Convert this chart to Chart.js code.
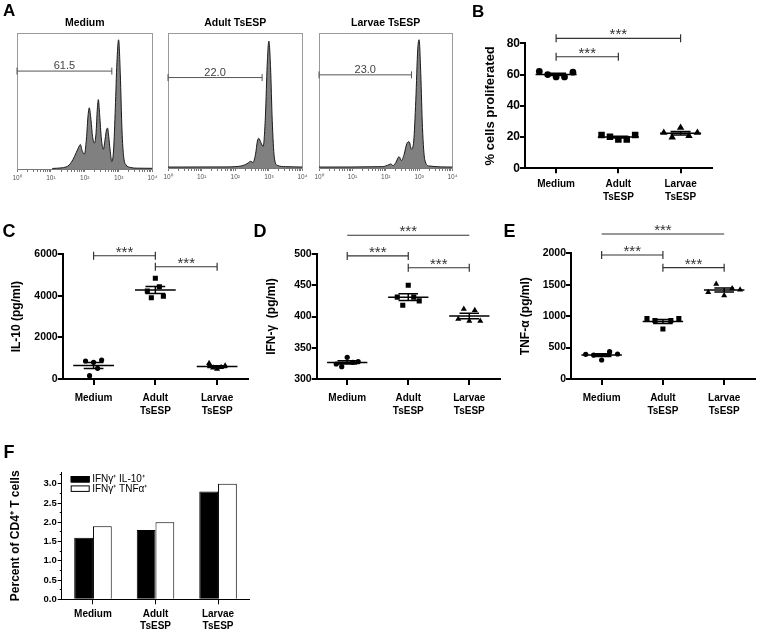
<!DOCTYPE html>
<html><head><meta charset="utf-8">
<script src="https://cdn.jsdelivr.net/npm/chart.js@4.4.0/dist/chart.umd.min.js"></script>
<style>
html,body{margin:0;padding:0;background:#fff;}
body{width:760px;height:633px;position:relative;overflow:hidden;font-family:"Liberation Sans",Arial,sans-serif;}
.pl{position:absolute;font-weight:bold;line-height:1;color:#000;z-index:5;}
.cv{position:absolute;}
.cv canvas{display:block;}
</style></head><body>
<script>
// ---------------- DATA ----------------
const groups = ['Medium', 'Adult TsESP', 'Larvae TsESP'];
const groupTickLabels = [['Medium'], ['Adult', 'TsESP'], ['Larvae', 'TsESP']];

// Panel A: CFSE histograms (x = fluorescence intensity, y = % of max)
const histTitles = ['Medium', 'Adult TsESP', 'Larvae TsESP'];
const histGateLabels = ['61.5', '22.0', '23.0'];
const histGateEnd = [630, 630, 590];
const histGateHeight = [72, 67, 69];
const histMediumX = [11, 20, 28, 35, 45, 56, 66, 74, 85, 98, 112, 126, 136, 150, 170, 192, 215, 235, 252, 275, 310, 355, 400, 440, 472, 510, 560, 630, 710, 800, 890, 1000, 1120, 1260, 1410, 1660, 2200, 3500, 10000];
const histMediumY = [0.4, 0.8, 1.5, 3, 7, 12, 16, 18, 13, 11, 22, 40, 45, 38, 24, 19, 26, 44, 51, 40, 22, 14.5, 22, 29, 30, 24, 14, 5.5, 14, 45, 78, 95, 70, 28, 9, 3, 1.2, 0.6, 0.5];
const histAdultX = [1, 50, 100, 150, 200, 250, 290, 335, 400, 457, 500, 575, 676, 795, 890, 1000, 1120, 1260, 1450, 1780, 3160, 10000];
const histAdultY = [0.7, 0.8, 1, 1.5, 2.5, 4, 5, 4, 10, 20, 22, 19, 16, 40, 76, 94, 75, 35, 8, 2, 1, 0.7];
const histLarvaeX = [1, 80, 126, 141, 166, 200, 251, 295, 355, 427, 500, 590, 690, 795, 910, 1000, 1120, 1260, 1480, 2000, 10000];
const histLarvaeY = [0.7, 1, 2.5, 3, 1.8, 4, 8.4, 5.5, 10, 18, 19.5, 14, 20, 50, 88, 95, 70, 30, 6, 1.5, 0.7];
const histDecades = [1, 10, 100, 1000, 10000];

// Panel B: % cells proliferated
const prolifMedium = [62, 60, 58.5, 58.5, 61.5];
const prolifAdult = [21.3, 20.2, 18.5, 18.5, 21.3];
const prolifLarvae = [22.8, 19.8, 26, 20.7, 22.8];
const yTicksB = [0, 20, 40, 60, 80];
const sigB = [[0, 2, 83.2], [0, 1, 71.4]];

// Panel C: IL-10 (pg/ml)
const il10Medium = [866, 160, 803, 514, 914];
const il10Adult = [4234, 3912, 4845, 4441, 3979];
const il10Larvae = [755, 545, 481, 561, 640];
const yTicksC = [0, 2000, 4000, 6000];
const sigC = [[0, 1, 5930], [1, 2, 5400]];

// Panel D: IFN-γ (pg/ml)
const ifngMedium = [324, 319.7, 334.7, 326.7, 327.7];
const ifngAdult = [431, 418, 450, 431, 425];
const ifngLarvae = [396, 412, 393, 410, 393];
const yTicksD = [300, 350, 400, 450, 500];
const sigD = [[0, 2, 530], [0, 1, 497], [1, 2, 478]];

// Panel E: TNF-α (pg/ml)
const tnfMedium = [393, 380, 302, 434, 398];
const tnfAdult = [960, 930, 795, 930, 960];
const tnfLarvae = [1380, 1510, 1330, 1440, 1420];
const yTicksE = [0, 500, 1000, 1500, 2000];
const sigE = [[0, 2, 2307], [0, 1, 1973], [1, 2, 1771]];

const sigLabel = '***';

// Panel F: percent of CD4+ T cells
const seriesF = ['IFNγ⁺ IL-10⁺', 'IFNγ⁺ TNFα⁺'];
const dblIl10 = [1.6, 1.8, 2.8];
const dblTnf = [1.9, 2.0, 3.0];
const yTicksF = [0, 0.5, 1.0, 1.5, 2.0, 2.5, 3.0];
const yMinorF = [0.25, 0.75, 1.25, 1.75, 2.25, 2.75, 3.25];

// ---------------- STYLE / HELPERS ----------------
const FONT = '"Liberation Sans", Arial, Helvetica, sans-serif';
Chart.defaults.font.family = FONT;
Chart.defaults.color = '#000';
Chart.defaults.animation = false;
Chart.defaults.plugins.legend.display = false;
Chart.defaults.plugins.tooltip.enabled = false;

function mount(r) {
  const d = document.createElement('div');
  d.className = 'cv';
  d.style.left = r.x + 'px'; d.style.top = r.y + 'px';
  d.style.width = r.w + 'px'; d.style.height = r.h + 'px';
  const c = document.createElement('canvas');
  d.appendChild(c);
  document.body.appendChild(d);
  return c;
}
function textLayer(items) {
  return { id: 'textLayer', afterDatasetsDraw(chart) {
    const ctx = chart.ctx, sx = chart.scales.x, sy = chart.scales.y;
    ctx.save();
    items.forEach(it => {
      const px = (sx.getPixelForValue(it.x1) + sx.getPixelForValue(it.x2)) / 2;
      const py = sy.getPixelForValue(it.y) + it.dy;
      ctx.font = it.font; ctx.fillStyle = it.color;
      ctx.textAlign = 'center'; ctx.textBaseline = 'alphabetic';
      ctx.fillText(it.text, px, py);
    });
    ctx.restore();
  }};
}
const SUP = {0: '⁰', 1: '¹', 2: '²', 3: '³', 4: '⁴'};
const logTickValues = [];
for (let e = 0; e < 4; e++) for (let m = 1; m < 10; m++) logTickValues.push(m * Math.pow(10, e));
logTickValues.push(10000);

function histChart(rect, area, title, xs, ys, gateEnd, gateY, gateLabel) {
  const cv = mount(rect);
  const titleLH = 10.5 * 1.2;
  const titleCenter = 23.3;
  const padTop = titleCenter - rect.y - titleLH / 2;
  const titlePadBottom = area.top - rect.y - padTop - titleLH;
  const xH = 14;
  const p = {left: area.left - rect.x, right: rect.x + rect.w - area.right, top: padTop, bottom: rect.y + rect.h - area.bottom - xH};
  const boxBorder = {color: '#9a9a9a', width: 1};
  const hidden = {drawOnChartArea: false, drawTicks: false};
  new Chart(cv, {
    type: 'line',
    data: {datasets: [
      {data: xs.map((x, i) => ({x, y: ys[i]})), borderColor: '#1a1a1a', borderWidth: 1, backgroundColor: '#808080', fill: 'origin', pointRadius: 0, cubicInterpolationMode: 'monotone'},
      {data: [{x: 1, y: gateY}, {x: gateEnd, y: gateY}], borderColor: '#555', borderWidth: 1, pointStyle: 'line', rotation: 90, pointRadius: 3.5, pointBorderColor: '#555', pointBorderWidth: 1, fill: false, clip: false}
    ]},
    options: {
      responsive: true, maintainAspectRatio: false, events: [],
      layout: {padding: p},
      plugins: {title: {display: true, text: title, fullSize: false, color: '#000', font: {size: 10.5, weight: 'bold', lineHeight: 1.2}, padding: {top: 0, bottom: titlePadBottom}}},
      scales: {
        x: {type: 'logarithmic', position: 'bottom', min: 1, max: 10000,
            afterBuildTicks: s => { s.ticks = logTickValues.map(v => ({value: v, major: histDecades.includes(v)})); },
            afterFit: s => { s.height = xH; },
            ticks: {autoSkip: false, maxRotation: 0, padding: 2.5, color: '#555', font: {size: 6.5, lineHeight: 1.1},
                    callback: v => { const k = histDecades.indexOf(v); return k >= 0 ? '10' + SUP[k] : ''; }},
            grid: {drawOnChartArea: false, drawTicks: true, tickLength: 3, color: '#777', lineWidth: 1},
            border: {color: '#777', width: 1}},
        y: {min: 0, max: 100, afterFit: s => { s.width = 0; }, ticks: {display: false}, grid: hidden, border: boxBorder},
        x2: {type: 'linear', position: 'top', afterFit: s => { s.height = 0; }, ticks: {display: false}, grid: hidden, border: boxBorder},
        y2: {type: 'linear', position: 'right', afterFit: s => { s.width = 0; }, ticks: {display: false}, grid: hidden, border: boxBorder}
      }
    },
    plugins: [textLayer([{x1: 1, x2: gateEnd, y: gateY, dy: -2, text: gateLabel, font: '11px ' + FONT, color: '#444'}])]
  });
}

function mean(a) { return a.reduce((s, v) => s + v, 0) / a.length; }
function sem(a) { const m = mean(a); return Math.sqrt(a.reduce((s, v) => s + (v - m) * (v - m), 0) / (a.length - 1)) / Math.sqrt(a.length); }

function dotPlot(c) {
  const cv = mount(c.rect);
  const p = {left: c.area.left - c.rect.x - c.yW, right: c.rect.x + c.rect.w - c.area.right, top: c.area.top - c.rect.y, bottom: c.rect.y + c.rect.h - c.area.bottom - c.xH};
  const shapes = ['circle', 'rect', 'triangle'];
  const ds = [];
  c.values.forEach((vals, g) => {
    const n = vals.length;
    ds.push({data: vals.map((v, k) => ({x: g + (k / (n - 1) - 0.5) * 2 * c.jitter, y: v})),
             pointStyle: shapes[g], pointRadius: c.markerR[g], pointBackgroundColor: '#000', backgroundColor: '#000', pointBorderWidth: 0, showLine: false});
    const m = mean(vals), s = sem(vals);
    ds.push({data: [{x: g - 0.33, y: m}, {x: g + 0.33, y: m}, {x: g, y: null},
                    {x: g - 0.16, y: m + s}, {x: g + 0.16, y: m + s}, {x: g, y: null},
                    {x: g - 0.16, y: m - s}, {x: g + 0.16, y: m - s}, {x: g, y: null},
                    {x: g, y: m - s}, {x: g, y: m + s}],
             showLine: true, borderColor: '#000', borderWidth: 1.5, pointRadius: 0, spanGaps: false, fill: false});
  });
  c.sig.forEach(([a, b, y]) => ds.push({data: [{x: a, y}, {x: b, y}], showLine: true, borderColor: '#333', borderWidth: 1.2,
    pointStyle: 'line', rotation: 90, pointRadius: 4, pointBorderColor: '#333', pointBorderWidth: 1.2, clip: false, fill: false}));
  const stars = c.sig.map(([a, b, y]) => ({x1: a, x2: b, y, dy: 1, text: sigLabel, font: '15px ' + FONT, color: '#333'}));
  new Chart(cv, {
    type: 'scatter',
    data: {datasets: ds},
    options: {
      responsive: true, maintainAspectRatio: false, events: [],
      layout: {padding: p},
      scales: {
        x: {type: 'linear', min: -0.5, max: 2.5,
            afterBuildTicks: s => { s.ticks = groups.map((g, i) => ({value: i})); },
            afterFit: s => { s.height = c.xH; },
            ticks: {autoSkip: false, maxRotation: 0, padding: c.xPad, font: {size: 10, weight: 'bold', lineHeight: c.xLH}, callback: v => groupTickLabels[v]},
            grid: {drawOnChartArea: false, drawTicks: true, tickLength: c.xTL, color: '#000', lineWidth: 2},
            border: {color: '#000', width: 2}},
        y: {type: 'linear', min: c.yTicks[0], max: c.yTicks[c.yTicks.length - 1],
            afterBuildTicks: s => { s.ticks = c.yTicks.map(v => ({value: v})); },
            afterFit: s => { s.width = c.yW; },
            ticks: {padding: 0, font: {size: c.yTickSize, weight: 'bold'}, callback: v => String(v)},
            grid: {drawOnChartArea: false, drawTicks: true, tickLength: 5, color: '#000', lineWidth: 2},
            border: {color: '#000', width: 2},
            title: {display: true, text: c.yTitle, color: '#000', font: {size: c.titleSize, weight: 'bold', lineHeight: 1.2}, padding: {top: 0, bottom: 0}}}
      }
    },
    plugins: [textLayer(stars)]
  });
}

// ---------------- PANEL A ----------------
histChart({x: 0, y: 0, w: 160, h: 190}, {left: 17, top: 33, right: 154, bottom: 169}, histTitles[0], histMediumX, histMediumY, histGateEnd[0], histGateHeight[0], histGateLabels[0]);
histChart({x: 160, y: 0, w: 150, h: 190}, {left: 168, top: 33, right: 304, bottom: 168}, histTitles[1], histAdultX, histAdultY, histGateEnd[1], histGateHeight[1], histGateLabels[1]);
histChart({x: 310, y: 0, w: 150, h: 190}, {left: 319, top: 33, right: 454, bottom: 168}, histTitles[2], histLarvaeX, histLarvaeY, histGateEnd[2], histGateHeight[2], histGateLabels[2]);

// ---------------- PANEL B ----------------
dotPlot({rect: {x: 470, y: 0, w: 290, h: 210}, area: {left: 525, top: 43.3, right: 711.7, bottom: 168.3}, yW: 42.8, xH: 35,
  values: [prolifMedium, prolifAdult, prolifLarvae], yTicks: yTicksB, yTitle: '% cells proliferated', titleSize: 13, yTickSize: 12,
  sig: sigB, jitter: 0.27, markerR: [3.4, 4.6, 4.3], xTL: 5, xPad: 5, xLH: 1.25});

// ---------------- PANEL C ----------------
dotPlot({rect: {x: 0, y: 215, w: 255, h: 205}, area: {left: 62.7, top: 254.3, right: 248, bottom: 379}, yW: 53.2, xH: 35,
  values: [il10Medium, il10Adult, il10Larvae], yTicks: yTicksC, yTitle: 'IL-10 (pg/ml)', titleSize: 12, yTickSize: 10.5,
  sig: sigC, jitter: 0.13, markerR: [2.6, 3.6, 3.5], xTL: 6, xPad: 7, xLH: 1.3});

// ---------------- PANEL D ----------------
dotPlot({rect: {x: 255, y: 215, w: 250, h: 205}, area: {left: 316.7, top: 254, right: 503, bottom: 379}, yW: 52.2, xH: 35,
  values: [ifngMedium, ifngAdult, ifngLarvae], yTicks: yTicksD, yTitle: 'IFN-γ  (pg/ml)', titleSize: 12, yTickSize: 10.5,
  sig: sigD, jitter: 0.18, markerR: [2.6, 3.6, 3.5], xTL: 6, xPad: 7, xLH: 1.3});

// ---------------- PANEL E ----------------
dotPlot({rect: {x: 505, y: 215, w: 255, h: 205}, area: {left: 571, top: 253.3, right: 756.7, bottom: 379}, yW: 52.2, xH: 35,
  values: [tnfMedium, tnfAdult, tnfLarvae], yTicks: yTicksE, yTitle: 'TNF-α (pg/ml)', titleSize: 12, yTickSize: 10.5,
  sig: sigE, jitter: 0.26, markerR: [2.6, 3.6, 3.5], xTL: 6, xPad: 7, xLH: 1.3});

// ---------------- PANEL F ----------------
(function () {
  const rect = {x: 0, y: 430, w: 260, h: 203};
  const area = {left: 61.7, top: 472.3, right: 249.3, bottom: 599.3};
  const yW = 53.1, xH = 33.7;
  const cv = mount(rect);
  const legendF = {id: 'legendF', afterDraw(chart) {
    const ctx = chart.ctx, a = chart.chartArea;
    ctx.save();
    chart.data.datasets.forEach((d, i) => {
      const y = a.top + 3.7 + i * 9.4;
      ctx.fillStyle = d.backgroundColor; ctx.fillRect(a.left + 9, y, 19, 6.5);
      ctx.strokeStyle = '#000'; ctx.lineWidth = 1; ctx.strokeRect(a.left + 9.5, y + 0.5, 18, 5.5);
      ctx.fillStyle = '#000'; ctx.font = '10px ' + FONT; ctx.textAlign = 'left'; ctx.textBaseline = 'middle';
      ctx.fillText(d.label, a.left + 30.5, y + 3.5);
    });
    ctx.restore();
  }};
  new Chart(cv, {
    type: 'bar',
    data: {labels: groupTickLabels, datasets: [
      {label: seriesF[0], data: dblIl10, backgroundColor: '#000', borderColor: '#000', borderWidth: 1},
      {label: seriesF[1], data: dblTnf, backgroundColor: '#fff', borderColor: '#000', borderWidth: 1}
    ]},
    options: {
      responsive: true, maintainAspectRatio: false, events: [],
      layout: {padding: {left: area.left - rect.x - yW, right: rect.x + rect.w - area.right, top: area.top - rect.y, bottom: rect.y + rect.h - area.bottom - xH}},
      datasets: {bar: {barPercentage: 1, categoryPercentage: 0.6}},
      scales: {
        x: {afterFit: s => { s.height = xH; },
            ticks: {autoSkip: false, maxRotation: 0, padding: 4, font: {size: 10, weight: 'bold', lineHeight: 1.17}},
            grid: {offset: false, drawOnChartArea: false, drawTicks: true, tickLength: 5, color: '#000', lineWidth: 1},
            border: {color: '#000', width: 1}},
        y: {min: 0, max: 3.3, weight: 1,
            afterBuildTicks: s => { s.ticks = yTicksF.map(v => ({value: v})); },
            afterFit: s => { s.width = yW; },
            ticks: {padding: 1, font: {size: 9.5, weight: 'bold'}, callback: v => v.toFixed(1)},
            grid: {drawOnChartArea: false, drawTicks: true, tickLength: 4, color: '#000', lineWidth: 1},
            border: {color: '#000', width: 1},
            title: {display: true, text: 'Percent of CD4⁺ T cells', color: '#000', font: {size: 12, weight: 'bold', lineHeight: 1.2}, padding: {top: 0, bottom: 0}}},
        yMinor: {type: 'linear', position: 'left', min: 0, max: 3.3, weight: 0,
            afterBuildTicks: s => { s.ticks = yMinorF.map(v => ({value: v})); },
            afterFit: s => { s.width = 0; },
            ticks: {display: false},
            grid: {drawOnChartArea: false, drawTicks: true, tickLength: 2, color: '#000', lineWidth: 1},
            border: {display: false}}
      }
    },
    plugins: [legendF]
  });
})();
</script>
<div class="pl" style="left:3px;top:2px;font-size:17px">A</div>
<div class="pl" style="left:472px;top:3px;font-size:17px">B</div>
<div class="pl" style="left:2.5px;top:222px;font-size:18px">C</div>
<div class="pl" style="left:253.6px;top:222px;font-size:18px">D</div>
<div class="pl" style="left:503.6px;top:222px;font-size:18px">E</div>
<div class="pl" style="left:3.6px;top:442.7px;font-size:18px">F</div>
</body></html>
